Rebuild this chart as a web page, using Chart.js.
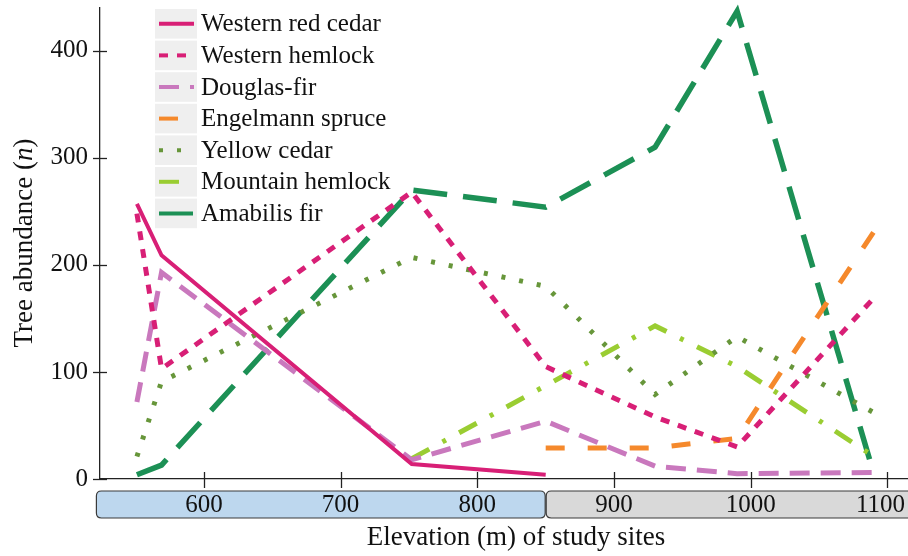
<!DOCTYPE html>
<html>
<head>
<meta charset="utf-8">
<script src="https://cdn.jsdelivr.net/npm/chart.js@4.4.1/dist/chart.umd.min.js"></script>
<style>
  html, body { margin: 0; padding: 0; background: #ffffff; }
  #wrap { width: 908px; height: 556px; }
</style>
</head>
<body>
<div id="wrap"><canvas id="c" width="908" height="556"></canvas></div>
<script>
// ---- data ----
const elevations = [551, 569, 752, 850, 930, 990, 1090];
const westernRedCedar = [257, 209, 14, 4, null, null, null];
const westernHemlock  = [248, 103, 268, 105, 58, 30, 169];
const douglasFir      = [72, 193, 18, 54, 12, 5, 6];
const engelmannSpruce = [null, null, null, 29, 29, 38, 231];
const yellowCedar     = [21, 91, 207, 180, 79, 133, 62];
const mountainHemlock = [null, null, 19, null, 143, 105, 21];
const amabilisFir     = [4, 13, 270, 254, 310, 437, 5];

const seriesNames = ['Western red cedar', 'Western hemlock', 'Douglas-fir', 'Engelmann spruce',
                     'Yellow cedar', 'Mountain hemlock', 'Amabilis fir'];
const xTickValues = [600, 700, 800, 900, 1000, 1100];
const yTickValues = [0, 100, 200, 300, 400];
const zoneEdges = [521, 850, 1122];   // elevation zones shown in the band under the x axis
const xTitle = 'Elevation (m) of study sites';
const yTitleParts = ['Tree abundance (', 'n', ')'];

// ---- styles ----
const FONT = '"Liberation Serif", "Times New Roman", Times, serif';
const styles = [
  { color: '#d81f76', dash: [], width: 4 },
  { color: '#d81f76', dash: [9, 9], width: 5 },
  { color: '#c978bd', dash: [20, 11], width: 5 },
  { color: '#f5892c', dash: [19, 23], width: 5 },
  { color: '#67963a', dash: [4, 14], width: 5 },
  { color: '#9acd32', dash: [20, 15, 4, 15], width: 5 },
  { color: '#1c9055', dash: [34, 16], width: 5.5 }
];
const zoneColors = ['#bdd7ee', '#d9d9d9'];

const allSeries = [westernRedCedar, westernHemlock, douglasFir, engelmannSpruce,
                   yellowCedar, mountainHemlock, amabilisFir];

const datasets = allSeries.map((vals, i) => ({
  label: seriesNames[i],
  data: elevations.map((x, j) => ({ x: x, y: vals[j] })).filter(p => p.y !== null),
  borderColor: styles[i].color,
  backgroundColor: styles[i].color,
  borderDash: styles[i].dash,
  borderWidth: styles[i].width,
  pointRadius: 0,
  tension: 0,
  fill: false,
  spanGaps: true,
  clip: false,
  borderCapStyle: 'butt',
  borderJoinStyle: 'miter'
}));

function roundRect(ctx, x, y, w, h, r) {
  ctx.beginPath();
  ctx.moveTo(x + r, y);
  ctx.lineTo(x + w - r, y);
  ctx.quadraticCurveTo(x + w, y, x + w, y + r);
  ctx.lineTo(x + w, y + h - r);
  ctx.quadraticCurveTo(x + w, y + h, x + w - r, y + h);
  ctx.lineTo(x + r, y + h);
  ctx.quadraticCurveTo(x, y + h, x, y + h - r);
  ctx.lineTo(x, y + r);
  ctx.quadraticCurveTo(x, y, x + r, y);
  ctx.closePath();
}

function zeroPad(s) { s.paddingTop = 0; s.paddingBottom = 0; s.paddingLeft = 0; s.paddingRight = 0; }

const decor = {
  id: 'decor',
  beforeDraw(chart) {
    const ctx = chart.ctx;
    const xs = chart.scales.x;
    ctx.save();
    for (let i = 0; i < zoneEdges.length - 1; i++) {
      const x0 = xs.getPixelForValue(zoneEdges[i]);
      const x1 = xs.getPixelForValue(zoneEdges[i + 1]);
      roundRect(ctx, x0 + 0.5, 491, x1 - x0 - 1, 27, 5);
      ctx.fillStyle = zoneColors[i];
      ctx.fill();
      ctx.lineWidth = 1.2;
      ctx.strokeStyle = '#3a3a3a';
      ctx.stroke();
    }
    ctx.restore();
  },
  afterDraw(chart) {
    const ctx = chart.ctx;
    const xs = chart.scales.x, ys = chart.scales.y;
    const area = chart.chartArea;
    ctx.save();
    // crossing tick marks
    ctx.strokeStyle = '#222';
    ctx.lineWidth = 1.3;
    yTickValues.forEach(v => {
      const y = Math.round(ys.getPixelForValue(v)) + 0.5;
      ctx.beginPath(); ctx.moveTo(area.left - 7, y); ctx.lineTo(area.left + 7, y); ctx.stroke();
    });
    xTickValues.forEach(v => {
      const x = Math.round(xs.getPixelForValue(v)) + 0.5;
      ctx.beginPath(); ctx.moveTo(x, area.bottom - 7); ctx.lineTo(x, area.bottom + 9); ctx.stroke();
    });
    // x tick labels (inside the zone band), kept within the canvas
    ctx.fillStyle = '#111';
    ctx.font = '25px ' + FONT;
    ctx.textAlign = 'center';
    ctx.textBaseline = 'middle';
    xTickValues.forEach(v => {
      const label = String(v);
      const w = ctx.measureText(label).width;
      let x = xs.getPixelForValue(v);
      if (x + w / 2 > chart.width - 3) x = chart.width - 3 - w / 2;
      ctx.fillText(label, x, 505);
    });
    // legend
    const rowH = 31.6;
    chart.data.datasets.forEach((ds, i) => {
      const top = 8 + i * rowH;
      const cy = top + rowH / 2;
      ctx.fillStyle = '#efefef';
      ctx.fillRect(155, top + 1, 42, rowH - 2);
      ctx.beginPath();
      ctx.setLineDash(ds.borderDash);
      ctx.strokeStyle = ds.borderColor;
      ctx.lineWidth = Math.min(ds.borderWidth, 4);
      ctx.moveTo(159, cy); ctx.lineTo(194, cy);
      ctx.stroke();
      ctx.setLineDash([]);
      ctx.fillStyle = '#111';
      ctx.font = '25px ' + FONT;
      ctx.textBaseline = 'middle';
      ctx.textAlign = 'left';
      ctx.fillText(ds.label, 201, cy + 1);
    });
    // x title
    ctx.fillStyle = '#111';
    ctx.font = '27px ' + FONT;
    ctx.textAlign = 'center';
    ctx.textBaseline = 'middle';
    ctx.fillText(xTitle, 516, 538);
    // y title with italic n
    ctx.translate(25, 243);
    ctx.rotate(-Math.PI / 2);
    const fonts = ['27px ' + FONT, 'italic 27px ' + FONT, '27px ' + FONT];
    const widths = yTitleParts.map((t, k) => { ctx.font = fonts[k]; return ctx.measureText(t).width; });
    let x = -widths.reduce((a, b) => a + b, 0) / 2;
    ctx.textAlign = 'left';
    yTitleParts.forEach((t, k) => { ctx.font = fonts[k]; ctx.fillText(t, x, 0); x += widths[k]; });
    ctx.restore();
  }
};

new Chart(document.getElementById('c'), {
  type: 'line',
  data: { datasets: datasets },
  options: {
    responsive: false,
    animation: false,
    devicePixelRatio: 1,
    layout: { autoPadding: false, padding: { top: 8, right: 0, left: 0, bottom: 0 } },
    plugins: { legend: { display: false }, title: { display: false }, tooltip: { enabled: false } },
    scales: {
      x: {
        type: 'linear',
        min: 524, max: 1115,
        afterBuildTicks: s => { s.ticks = xTickValues.map(v => ({ value: v })); },
        afterFit: s => { s.height = 77; zeroPad(s); },
        grid: { display: false, drawTicks: false },
        border: { display: true, color: '#222', width: 1.3 },
        ticks: { display: false }
      },
      y: {
        type: 'linear',
        min: 0, max: 440,
        afterBuildTicks: s => { s.ticks = yTickValues.map(v => ({ value: v })); },
        afterFit: s => { s.width = 100; zeroPad(s); },
        grid: { display: false, drawTicks: false },
        border: { display: true, color: '#222', width: 1.3 },
        ticks: { padding: 12, color: '#111', font: { family: FONT, size: 25 }, callback: v => String(v) }
      }
    }
  },
  plugins: [decor]
});
</script>
</body>
</html>
